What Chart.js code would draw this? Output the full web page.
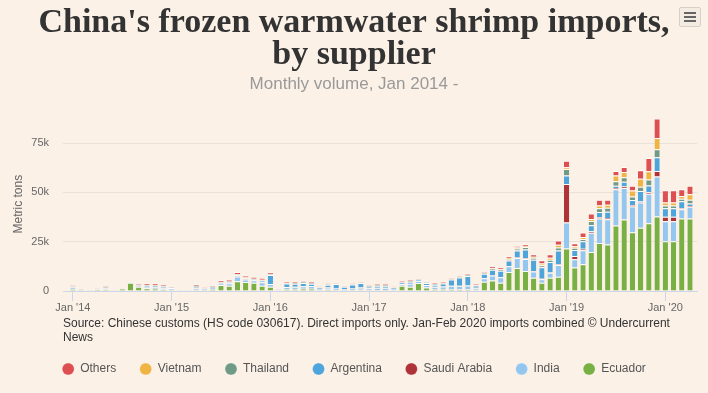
<!DOCTYPE html>
<html>
<head>
<meta charset="utf-8">
<script src="https://cdn.jsdelivr.net/npm/chart.js@4.4.1/dist/chart.umd.min.js"></script>
<style>
  html, body { margin: 0; padding: 0; background: #fbf1e7; }
  #wrap { position: relative; width: 708px; height: 393px; }
  #source {
    position: absolute; left: 63px; top: 316px; width: 615px;
    font: 12px "Liberation Sans", Arial, sans-serif; line-height: 14px; color: #333;
  }
  #menu {
    position: absolute; left: 679px; top: 7px; width: 20px; height: 18px;
    border: 1px solid #d6d0c8; border-radius: 2px; background: #f4ece3;
  }
  #menu span { position: absolute; left: 4px; width: 12px; height: 2px; background: #666; }
</style>
</head>
<body>
<div id="wrap">
  <canvas id="chart" width="708" height="393"></canvas>
  <div id="source">Source: Chinese customs (HS code 030617). Direct imports only. Jan-Feb 2020 imports combined © Undercurrent News</div>
  <div id="menu"><span style="top:4px"></span><span style="top:8px"></span><span style="top:12px"></span></div>
</div>
<script>
// monthly volume, metric tons, Jan 2014 .. Apr 2020 (Jan-Feb 2020 combined, split in two)
const ecuador = [1000,500,200,700,800,200,1200,4200,2200,1400,1200,800,
  600,200,200,600,500,1000,3000,2600,5000,4600,4200,2600,
  2200,200,1000,1000,1200,1200,400,800,500,300,500,600,
  400,500,500,400,2600,2200,4000,1800,900,900,1000,800,
  800,600,4700,5300,4200,9600,11700,10200,6700,4200,6700,7200,
  21500,11900,13600,19800,24300,23600,33200,36200,29800,32000,34300,37800,
  25200,25200,36800,36800];
const india = [800,300,200,400,700,200,200,100,400,700,800,800,
  900,200,200,1000,600,700,800,1300,2300,1200,1200,1800,
  1400,300,1000,1200,1200,1300,800,1000,800,600,800,1200,
  1000,1200,1200,800,1000,1500,1000,1300,1300,1400,1600,1800,
  2000,1000,1800,2500,2800,3000,5000,6000,3200,1800,2500,6000,
  13200,4200,7000,9700,12500,12800,18400,16000,13000,12800,15000,20200,
  10200,10200,4600,5900];
const saudiArabia = [0,0,0,0,0,0,0,0,0,0,0,0,
  0,0,0,0,0,0,0,0,0,0,0,0,
  0,0,0,0,0,0,0,0,0,0,0,0,
  0,0,0,0,0,0,0,0,0,0,0,0,
  0,0,0,0,0,0,300,400,300,200,200,300,
  19500,1700,800,800,600,600,600,800,800,600,800,2800,
  2300,2300,600,400];
const argentina = [300,100,0,100,300,0,0,0,300,500,600,500,
  200,0,100,600,200,300,400,600,700,600,500,900,
  4500,200,1800,1500,1600,1200,600,1400,2200,1200,2000,2200,
  800,1000,1000,600,700,1000,600,900,1000,1500,3200,4300,
  4800,1200,2200,3000,3300,2800,3500,4500,5600,5800,5300,7000,
  4300,3000,3800,3000,2600,3200,1200,2400,2500,5300,3400,7000,
  4200,4200,3500,1200];
const thailand = [400,200,100,200,500,100,100,100,300,500,500,400,
  200,100,100,500,200,300,300,300,400,400,300,400,
  400,0,300,400,500,400,200,300,200,100,200,300,
  300,400,400,200,300,400,300,400,400,400,500,500,
  600,300,500,600,600,800,1000,1200,1000,1000,1200,1500,
  3300,1100,1200,2200,1900,2000,2200,2200,1800,2200,3000,4000,
  1500,1500,1200,1900];
const vietnam = [100,0,0,0,0,0,0,0,0,0,0,0,
  0,0,0,0,0,0,0,0,200,0,0,0,
  0,0,0,0,0,0,0,0,0,0,0,0,
  0,0,0,0,0,0,0,0,0,0,0,0,
  0,0,200,300,300,500,500,400,600,900,1000,1400,
  900,800,1000,1000,1500,1500,3000,2700,3000,4000,4200,5800,
  1500,1500,1500,2800];
const others = [400,100,100,100,400,100,100,100,400,700,700,500,
  300,100,100,700,300,500,1000,1000,1000,1000,1000,1000,
  900,100,500,500,500,500,200,300,300,200,300,300,
  300,300,300,200,400,400,300,300,300,400,500,500,
  600,300,400,600,600,900,800,900,1200,1700,1700,2200,
  3300,1500,2200,2800,2800,2500,2200,2500,2400,4300,6700,9900,
  6200,6200,3400,4300];

const xTickPos = [0, 12, 24, 36, 48, 60, 72];
const xTickLabels = ["Jan '14", "Jan '15", "Jan '16", "Jan '17", "Jan '18", "Jan '19", "Jan '20"];
const yTicks = [0, 25000, 50000, 75000];

const FONT = '"Liberation Sans", Arial, sans-serif';
Chart.defaults.font.family = FONT;

// bottom to top of the stack
const series = [
  { label: "Ecuador", data: ecuador, color: "#78b043" },
  { label: "India", data: india, color: "#94c7f0" },
  { label: "Saudi Arabia", data: saudiArabia, color: "#ad3339" },
  { label: "Argentina", data: argentina, color: "#4ea5db" },
  { label: "Thailand", data: thailand, color: "#6e9a86" },
  { label: "Vietnam", data: vietnam, color: "#efb443" },
  { label: "Others", data: others, color: "#dd4f51" },
];

const datasets = series.map(s => ({
  label: s.label,
  data: s.data.map((v, i) => ({ x: i, y: v })),
  backgroundColor: s.color,
  borderColor: "#ffffff",
  borderWidth: { top: 1, left: 0, right: 0, bottom: 0 },
  categoryPercentage: 1,
  barPercentage: 0.64,
}));

new Chart(document.getElementById("chart"), {
  type: "bar",
  data: { datasets },
  options: {
    responsive: false,
    animation: false,
    events: [],
    layout: { padding: { left: 11, right: 11, top: 0, bottom: 8 } },
    plugins: {
      title: {
        display: true,
        text: ["China's frozen warmwater shrimp imports,", "by supplier"],
        color: "#333333",
        font: { family: '"Liberation Serif", "Times New Roman", serif', size: 34, weight: "bold", lineHeight: "32px" },
        padding: { top: 7, bottom: 0 },
      },
      subtitle: {
        display: true,
        text: "Monthly volume, Jan 2014 -",
        color: "#999999",
        font: { family: FONT, size: 17 },
        padding: { top: 3, bottom: 23 },
      },
      legend: {
        position: "bottom",
        reverse: true,
        labels: {
          usePointStyle: true,
          pointStyle: "circle",
          boxWidth: 12,
          boxHeight: 8.5,
          padding: 23.5,
          color: "#555555",
          font: { family: FONT, size: 12 },
        },
      },
      tooltip: { enabled: false },
    },
    scales: {
      x: {
        type: "linear",
        stacked: true,
        offset: false,
        min: -1.2,
        max: 75.85,
        afterBuildTicks: (scale) => { scale.ticks = xTickPos.map(v => ({ value: v })); },
        afterFit: (scale) => { scale.height = 48.5; },
        ticks: {
          autoSkip: false,
          maxRotation: 0,
          padding: 0,
          color: "#666666",
          font: { size: 11 },
          callback: (v, i) => xTickLabels[i],
        },
        grid: { offset: false, drawOnChartArea: false, drawTicks: true, tickLength: 10, color: "#ccd6eb" },
        border: { display: true, color: "#ccd6eb" },
      },
      y: {
        stacked: true,
        min: 0,
        max: 88000,
        afterBuildTicks: (scale) => { scale.ticks = yTicks.map(v => ({ value: v })); },
        afterFit: (scale) => { scale.width = 52; },
        ticks: {
          padding: 14,
          color: "#666666",
          font: { size: 11 },
          callback: (v) => (v === 0 ? "0" : v / 1000 + "k"),
        },
        grid: { color: "#e9e2da", drawTicks: false },
        border: { display: false },
        title: {
          display: true,
          text: "Metric tons",
          color: "#666666",
          font: { size: 12 },
          padding: { top: 0, bottom: 0 },
        },
      },
    },
  },
});
</script>
</body>
</html>
